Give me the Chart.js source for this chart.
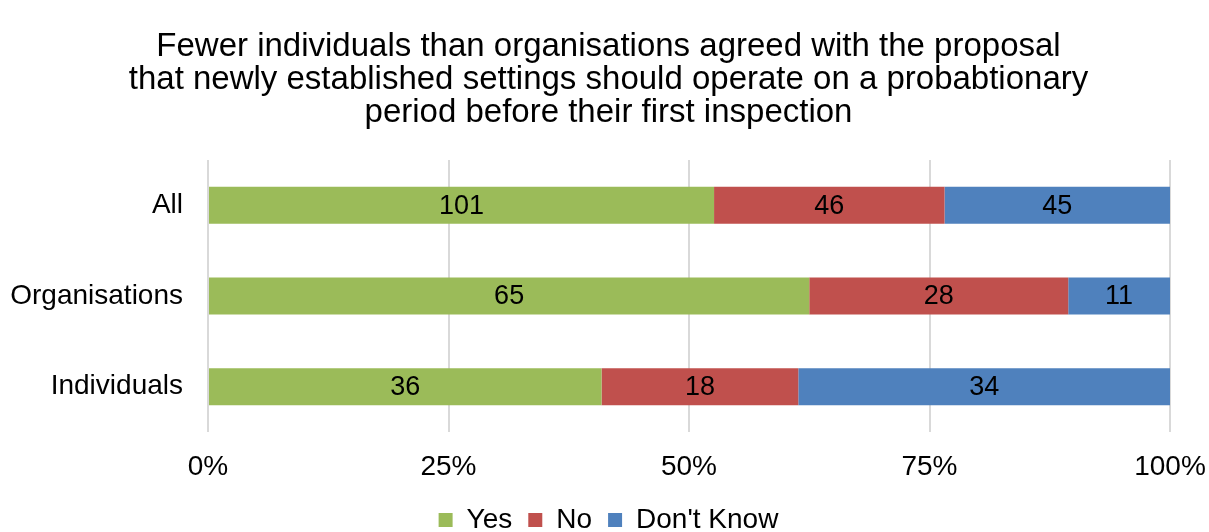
<!DOCTYPE html>
<html>
<head>
<meta charset="utf-8">
<script src="https://cdn.jsdelivr.net/npm/chart.js@4/dist/chart.umd.min.js"></script>
<style>
  html, body { margin: 0; padding: 0; background: #fff; }
  canvas { display: block; }
</style>
</head>
<body>
<canvas id="chart" width="1209" height="532"></canvas>
<script>
const CATEGORIES = ['All', 'Organisations', 'Individuals'];
const YES        = [101, 65, 36];
const NO         = [46, 28, 18];
const DONT_KNOW  = [45, 11, 34];
const TICKS      = ['0%', '25%', '50%', '75%', '100%'];

const TOTALS = CATEGORIES.map((_, i) => YES[i] + NO[i] + DONT_KNOW[i]);
const pct = arr => arr.map((v, i) => v / TOTALS[i] * 100);

const FONT = "'Liberation Sans', Arial, sans-serif";

// draws the raw counts in the middle of each segment
const segmentLabels = {
    id: 'segmentLabels',
    afterDatasetsDraw(chart) {
        const ctx = chart.ctx;
        ctx.save();
        ctx.font = `27px ${FONT}`;
        ctx.fillStyle = '#000';
        ctx.textAlign = 'center';
        ctx.textBaseline = 'middle';
        chart.data.datasets.forEach((ds, di) => {
            chart.getDatasetMeta(di).data.forEach((bar, i) => {
                const p = bar.getProps(['x', 'y', 'base'], true);
                ctx.fillText(ds.counts[i], (p.x + p.base) / 2, p.y + 1);
            });
        });
        ctx.restore();
    }
};

// legend sits low and partly clipped, like the original; shrink its box
const legendHeight = {
    id: 'legendHeight',
    beforeLayout(chart) {
        const lg = chart.legend;
        if (!lg || lg._patched) return;
        const fit = lg.fit.bind(lg);
        lg.fit = function () { fit(); this.height = 42; };
        lg._patched = true;
    }
};

new Chart(document.getElementById('chart'), {
    type: 'bar',
    data: {
        labels: CATEGORIES,
        datasets: [
            { label: 'Yes',        data: pct(YES),       counts: YES,       backgroundColor: '#9bbb59' },
            { label: 'No',         data: pct(NO),        counts: NO,        backgroundColor: '#c0504d' },
            { label: "Don't Know", data: pct(DONT_KNOW), counts: DONT_KNOW, backgroundColor: '#4f81bd' },
        ]
    },
    options: {
        indexAxis: 'y',
        responsive: false,
        animation: false,
        barPercentage: 0.51,
        categoryPercentage: 0.8,
        layout: { padding: { left: 8, right: 0, top: 0, bottom: 0 } },
        plugins: {
            title: {
                display: true,
                text: [
                    'Fewer individuals than organisations agreed with the proposal',
                    'that newly established settings should operate on a probabtionary',
                    'period before their first inspection'
                ],
                color: '#000',
                font: { family: FONT, size: 33, weight: 'normal', lineHeight: 1.0 },
                padding: { top: 30, bottom: 31 }
            },
            legend: {
                position: 'bottom',
                labels: {
                    color: '#000',
                    font: { family: FONT, size: 28 },
                    boxWidth: 14,
                    boxHeight: 14,
                    padding: 16
                }
            },
            tooltip: { enabled: false }
        },
        scales: {
            x: {
                stacked: true,
                min: 0,
                max: 100,
                border: { display: false },
                grid: { color: '#d9d9d9', lineWidth: 2, drawTicks: false },
                ticks: {
                    stepSize: 25,
                    padding: 18,
                    color: '#000',
                    font: { family: FONT, size: 28 },
                    callback: (v, i) => TICKS[i]
                },
                afterFit(scale) { scale.paddingRight = 39; scale.paddingLeft = 0; scale.height = 58; }
            },
            y: {
                stacked: true,
                border: { display: false },
                grid: { display: false },
                ticks: {
                    padding: 17,
                    color: '#000',
                    font: { family: FONT, size: 28 }
                },
                afterFit(scale) { scale.width = 200; }
            }
        }
    },
    plugins: [segmentLabels, legendHeight]
});
</script>
</body>
</html>
